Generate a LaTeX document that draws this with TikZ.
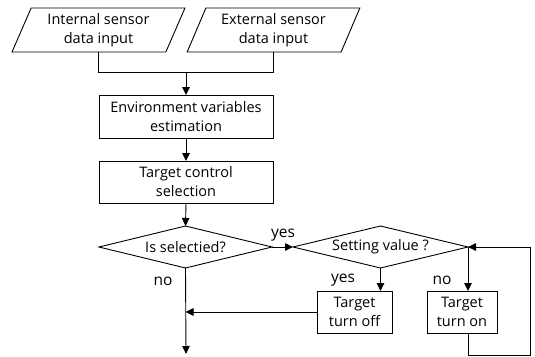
\documentclass[tikz,border=0pt]{standalone}
\usepackage{fontspec}
\setmainfont{Open Sans}
\usetikzlibrary{shapes.geometric,arrows.meta}
\begin{document}
\begin{tikzpicture}[x=1pt,y=-1pt,
  every node/.style={font=\fontsize{14.5}{19}\selectfont, inner sep=0pt, outer sep=0pt},
  box/.style={draw, line width=0.9pt, fill=white, align=center, minimum height=43pt},
  iobox/.style={draw, line width=0.9pt, fill=white, align=center, trapezium, trapezium left angle=66.6, trapezium right angle=113.4, trapezium stretches=true, minimum width=173pt, minimum height=44pt},
  dec/.style={draw, line width=0.9pt, fill=white, diamond, aspect=5, minimum height=42pt},
  lbl/.style={font=\fontsize{15.5}{17}\selectfont},
  line/.style={line width=0.9pt},
  arr/.style={line width=0.9pt, -{Triangle[length=8pt,width=7.5pt]}}]
\useasboundingbox (0,0) rectangle (535,356);

\node[iobox] (in1) at (98.5,30) {Internal sensor\\data input};
\node[iobox] (in2) at (273.5,30) {External sensor\\data input};
\node[box, minimum width=174pt] (env) at (186,116.5) {Environment variables\\estimation};
\node[box, minimum width=174pt, minimum height=42pt] (sel) at (186,182) {Target control\\selection};
\node[dec, minimum width=173pt] (d1) at (185.5,247) {Is selectied?};
\node[dec, minimum width=175pt] (d2) at (380.5,247) {Setting value ?};
\node[box, minimum width=75pt, minimum height=42pt] (off) at (354.5,312) {Target\\turn off};
\node[box, minimum width=70pt, minimum height=42pt] (on) at (462,312) {Target\\turn on};

\coordinate (j) at (186,72);
\coordinate (end) at (186,354);
\coordinate (lp1) at (530,355);

\draw[line] (in1.south -| in1.center) |- (j);
\draw[line] (in2.south -| in2.center) |- (j);
\draw[arr] (j) -- (env.north -| j);
\draw[arr] (env.south -| j) -- (sel.north -| j);
\draw[arr] (sel.south -| j) -- (d1.north);
\draw[arr] (d1.east) -- (d2.west);
\draw[arr] (d1.south) -- (end);
\draw[arr] (d2.south) -- (off.north -| d2.south);
\draw[arr] (d2.east) -- (on.north -| d2.east);
\draw[arr] (off.west) -- (off.west -| d1.south);
\draw[arr] (on.south -| d2.east) |- (lp1) |- (d2.east);

\node[lbl] (l1) at (283,235) {yes};
\node[lbl] (l2) at (163,281) {no};
\node[lbl] (l3) at (343,280) {yes};
\node[lbl] (l4) at (442,280) {no};
\end{tikzpicture}
\end{document}
